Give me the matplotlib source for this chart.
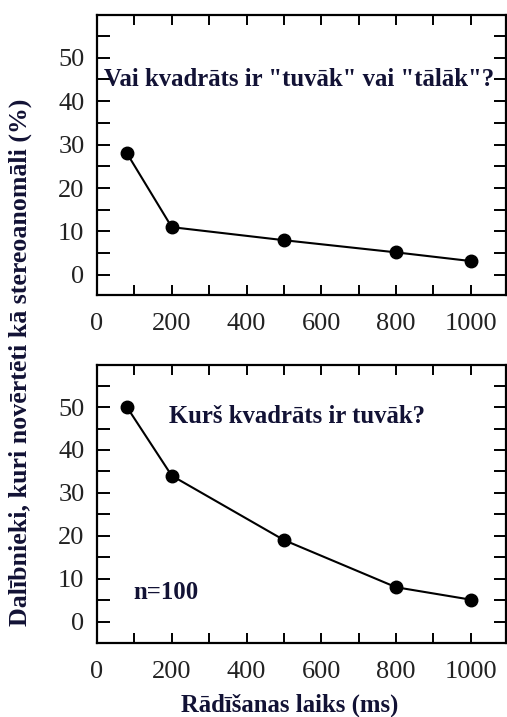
import matplotlib.pyplot as plt
from matplotlib.ticker import MultipleLocator

# display durations (ms) and share of stereo-anomalous participants (%)
durations = [80, 200, 500, 800, 1000]
far_near = [28, 11, 8, 5.2, 3.2]
which_nearer = [50, 34, 19, 8, 5.1]

title_top = 'Vai kvadrāts ir "tuvāk" vai "tālāk"?'
title_bottom = "Kurš kvadrāts ir tuvāk?"
n_label = "n=100"
ylabel = "Dalībnieki, kuri novērtēti kā stereoanomāli (%)"
xlabel = "Rādīšanas laiks (ms)"

text_col = "#121235"
serif = ["Liberation Serif", "DejaVu Serif"]
plt.rcParams["font.family"] = serif


def style_axis(ax, ylim):
	ax.set_xlim(0, 1094)
	ax.set_ylim(*ylim)
	ax.xaxis.set_major_locator(MultipleLocator(200))
	ax.xaxis.set_minor_locator(MultipleLocator(100))
	ax.yaxis.set_major_locator(MultipleLocator(10))
	ax.yaxis.set_minor_locator(MultipleLocator(5))
	ax.tick_params(axis="both", which="both", direction="in", top=True, right=True,
				   width=1.4, labelsize=19, labelcolor="#222222")
	ax.tick_params(axis="x", which="both", length=7, pad=13)
	ax.tick_params(axis="y", which="both", length=9, pad=9)
	for s in ax.spines.values():
		s.set_linewidth(1.6)


fig = plt.figure(figsize=(5.07, 7.17), dpi=100)
ax1 = fig.add_axes([0.1913, 0.5886, 0.8067, 0.3905])
ax2 = fig.add_axes([0.1913, 0.1032, 0.8067, 0.3877])

ax1.plot(durations, far_near, "o-", color="black", lw=1.5, ms=9)
style_axis(ax1, (-4.6, 59.8))
ax1.text(540, 45, title_top, ha="center", va="center", fontsize=17.8,
		 fontweight="bold", color=text_col)

ax2.plot(durations, which_nearer, "o-", color="black", lw=1.5, ms=9)
style_axis(ax2, (-5.0, 59.8))
ax2.text(535, 47.8, title_bottom, ha="center", va="center", fontsize=17.8,
		 fontweight="bold", color=text_col)
ax2.text(96, 6.7, n_label, ha="left", va="center", fontsize=17.8,
		 fontweight="bold", color=text_col)

fig.text(0.04, 0.495, ylabel, rotation=90, ha="center", va="center",
		 fontsize=18.6, fontweight="bold", color=text_col)
fig.text(0.572, 0.017, xlabel, ha="center", va="center",
		 fontsize=17.8, fontweight="bold", color=text_col)

fig.savefig("out.png", dpi=100)
